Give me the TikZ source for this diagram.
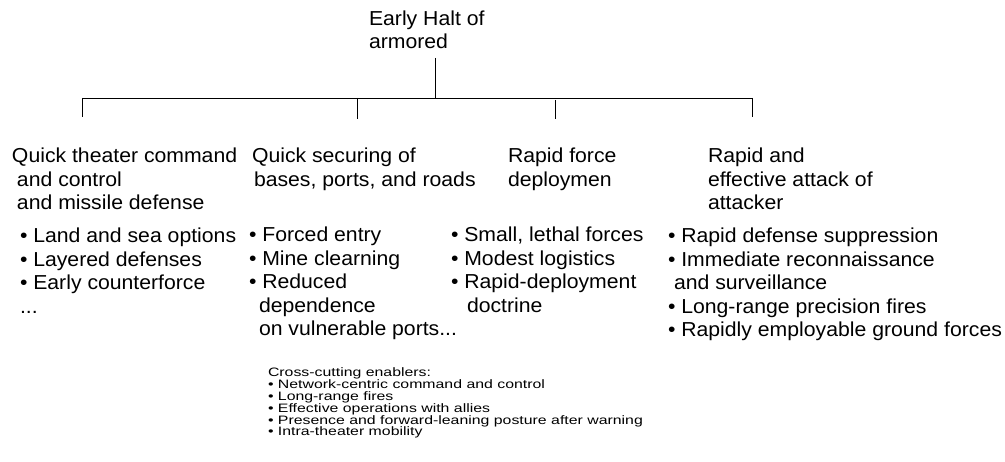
\documentclass[tikz,border=0pt]{standalone}
\usepackage{fontspec}
\setmainfont{Liberation Sans}[FakeStretch=1.05]
\newfontfamily\smallfam{Liberation Sans}[FakeStretch=1.3]
\newcommand\mainsz{\fontsize{20.2pt}{23.5pt}\selectfont}
\newcommand\smallsz{\smallfam\fontsize{12.2pt}{11.8pt}\selectfont}
% a left-aligned stack of lines whose baseline is the first line
\newcommand\stack[2][23.5pt]{\vtop{\let\\\cr\baselineskip=#1\lineskiplimit=-20pt\lineskip=0pt\halign{##\hfil\cr#2\crcr}}}
\newcommand\ind[1]{\hskip#1pt}
\tikzset{
  txt/.style={anchor=base west, inner sep=0pt, outer sep=0pt, font=\mainsz, text=black},
  smalltxt/.style={anchor=base west, inner sep=0pt, outer sep=0pt, font=\smallsz, text=black},
  link/.style={draw=black, line width=0.8pt}
}
\begin{document}
\begin{tikzpicture}[x=1pt,y=-1pt]
\path[use as bounding box] (0,0) rectangle (1005,462);

% root
\node[txt] (root) at (369,26) {\stack[23pt]{Early Halt of\\armored}};

% connector points
\coordinate (r0) at (435,58);
\coordinate (bus) at (435,98);
\coordinate (b1) at (82,98);
\coordinate (b2) at (357,98);
\coordinate (b3) at (555,100);
\coordinate (b4) at (752,98);
\coordinate (d1) at (82,117);
\coordinate (d2) at (357,119);
\coordinate (d3) at (555,119);
\coordinate (d4) at (752,117);

\draw[link] (r0) -- (bus);
\draw[link] (b1) -- (b4);
\draw[link] (b1) -- (d1);
\draw[link] (b2) -- (d2);
\draw[link] (b3) -- (d3);
\draw[link] (b4) -- (d4);

% column titles
\node[txt] (t1) at (12,163) {\stack{Quick theater command\\\ind{5}and control\\\ind{5}and missile defense}};
\node[txt] (t2) at (252,163) {\stack{Quick securing of\\\ind{2}bases, ports, and roads}};
\node[txt] (t3) at (508,163) {\stack{Rapid force\\deploymen}};
\node[txt] (t4) at (708,163) {\stack{Rapid and\\effective attack of\\attacker}};

% bullet lists
\node[txt] (l1) at (20,243) {\stack{• Land and sea options\\• Layered defenses\\• Early counterforce\\...}};
\node[txt] (l2) at (249,242) {\stack{• Forced entry\\• Mine clearning\\• Reduced\\\ind{10}dependence\\\ind{10}on vulnerable ports...}};
\node[txt] (l3) at (451,242) {\stack{• Small, lethal forces\\• Modest logistics\\• Rapid-deployment\\\ind{16}doctrine}};
\node[txt] (l4) at (668,243) {\stack{• Rapid defense suppression\\• Immediate reconnaissance\\\ind{6}and surveillance\\• Long-range precision fires\\• Rapidly employable ground forces}};

% cross-cutting enablers
\node[smalltxt] (cc) at (268,377) {\stack[11.8pt]{Cross-cutting enablers:\\• Network-centric command and control\\• Long-range fires\\• Effective operations with allies\\• Presence and forward-leaning posture after warning\\• Intra-theater mobility}};
\end{tikzpicture}
\end{document}
